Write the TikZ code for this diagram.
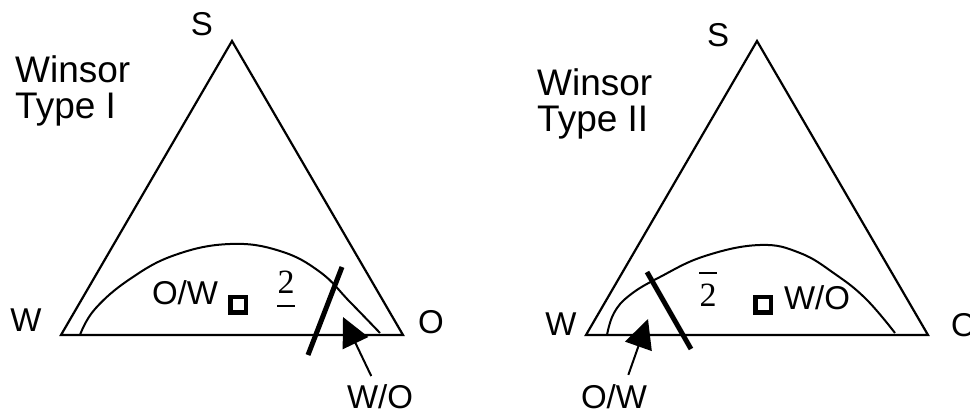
\documentclass[tikz,border=0pt]{standalone}
\usepackage{fontspec}
\setmainfont{Liberation Sans}
\newfontfamily\numfont{Liberation Serif}
\usetikzlibrary{arrows.meta}

\begin{document}
\begin{tikzpicture}[
    x=1pt, y=-1pt,
    lab/.style={inner sep=0pt, font=\fontsize{33}{33}\selectfont},
    title/.style={inner sep=0pt, anchor=north west, align=left, font=\fontsize{37}{36}\selectfont},
    phase/.style={inner sep=0pt, anchor=base, font=\numfont\fontsize{34}{34}\selectfont},
    side/.style={line width=2.2pt},
    binodal/.style={line width=2pt},
    tie/.style={line width=5pt},
    bar/.style={line width=1.8pt},
    marker/.style={draw, line width=4.5pt, minimum size=15.5pt, inner sep=0pt},
    pointer/.style={line width=2pt, shorten <=4pt, -{Triangle[length=29pt,width=28pt]}}
]
\useasboundingbox (0,0) rectangle (970,414);

% Type I
\coordinate (w1) at (61,335);
\coordinate (s1) at (232,41);
\coordinate (o1) at (403,335);
\draw[side] (w1) -- (s1) -- (o1) -- cycle;
\draw[binodal] plot[smooth, tension=0.7] coordinates {
    (80,335) (95,309) (130,279) (175,255) (230,244)
    (280,251) (320,272) (350,302) (380,333)};
\draw[tie] (342,267) -- (308,355);

\node[title] (type1) at (15,55) {Winsor\\Type I};
\node[lab] (lw1) at (26,320) {W};
\node[lab] (lo1) at (431,322) {O};
\node[lab] (ls1) at (202,24) {S};

\node[lab] (ow1) at (185,293) {O/W};
\node[marker] (dot1) at (238,305) {};
\node[phase] (two1) at (286,294) {2};
\draw[bar] ([yshift=-12pt]two1.south west) -- ([yshift=-12pt]two1.south east);

\node[lab] (wo1) at (380,397) {W/O};
\coordinate (tip1) at (343,317);
\draw[pointer] ([xshift=-7pt,yshift=5pt]wo1.north) -- (tip1);

% Type II
\coordinate (w2) at (586,335);
\coordinate (s2) at (757,41);
\coordinate (o2) at (928,335);
\draw[side] (w2) -- (s2) -- (o2) -- cycle;
\draw[binodal] plot[smooth, tension=0.7] coordinates {
    (607,335) (614,313) (630,295) (660,277) (705,256) (760,245)
    (800,253) (835,274) (866,299) (895,333)};
\draw[tie] (647,272) -- (691,349);

\node[title] (type2) at (537,68) {Winsor\\Type II};
\node[lab] (lw2) at (561,324) {W};
\node[lab] (lo2) at (964,325) {O};
\node[lab] (ls2) at (718,35) {S};

\node[phase] (two2) at (708,307) {2};
\draw[bar] ([yshift=11pt]two2.north west) -- ([yshift=11pt]two2.north east);
\node[marker] (dot2) at (763,305) {};
\node[lab] (wo2) at (817,298) {W/O};

\node[lab] (ow2) at (614,397) {O/W};
\coordinate (tip2) at (648,319);
\draw[pointer] ([xshift=13pt,yshift=6pt]ow2.north) -- (tip2);
\end{tikzpicture}
\end{document}
